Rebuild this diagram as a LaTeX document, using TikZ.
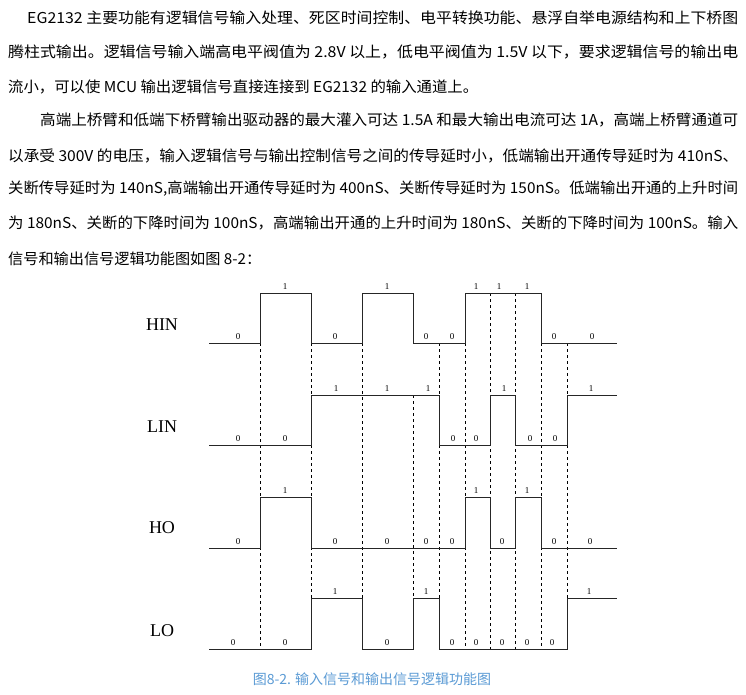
\documentclass[tikz,border=0pt]{standalone}
\usepackage{fontspec}
\usepackage{graphicx}
\setmainfont{Liberation Serif}
\newfontfamily\cjk{Noto Sans CJK SC}
\newcommand{\fullline}[2]{\resizebox{#1}{\height}{#2}}
\begin{document}
\begin{tikzpicture}[x=1pt,y=-1pt,
  sig/.style={line width=0.9pt,black!85},
  dsh/.style={dashed,line width=0.6pt},
  lbl/.style={font=\fontsize{9}{9}\selectfont,inner sep=0pt,anchor=south},
  nm/.style={font=\fontsize{18}{18}\selectfont},
  para/.style={font=\cjk\fontsize{15}{15}\selectfont,anchor=west,inner sep=0pt}]
\useasboundingbox (0,0) rectangle (746,694);
\fill[white] (0,0) rectangle (746,694);
\node[para] (l1) at (27,18) {\fullline{711pt}{EG2132 主要功能有逻辑信号输入处理、死区时间控制、电平转换功能、悬浮自举电源结构和上下桥图}};
\node[para] (l2) at (8,52) {\fullline{730pt}{腾柱式输出。逻辑信号输入端高电平阀值为 2.8V 以上，低电平阀值为 1.5V 以下，要求逻辑信号的输出电}};
\node[para] (l3) at (8,87) {\fullline{470pt}{流小，可以使 MCU 输出逻辑信号直接连接到 EG2132 的输入通道上。}};
\node[para] (l4) at (40,120) {\fullline{698pt}{高端上桥臂和低端下桥臂输出驱动器的最大灌入可达 1.5A 和最大输出电流可达 1A，高端上桥臂通道可}};
\node[para] (l5) at (8,156) {\fullline{730pt}{以承受 300V 的电压，输入逻辑信号与输出控制信号之间的传导延时小，低端输出开通传导延时为 410nS、}};
\node[para] (l6) at (8,189) {\fullline{730pt}{关断传导延时为 140nS,高端输出开通传导延时为 400nS、关断传导延时为 150nS。低端输出开通的上升时间}};
\node[para] (l7) at (8,223) {\fullline{730pt}{为 180nS、关断的下降时间为 100nS，高端输出开通的上升时间为 180nS、关断的下降时间为 100nS。输入}};
\node[para] (l8) at (8,259) {\fullline{253pt}{信号和输出信号逻辑功能图如图 8-2：}};
% dashed
\foreach \x in {260,311,362,439,465,567} \draw[dsh] (\x,343) -- (\x,649);
\draw[dsh] (413,395) -- (413,649);
\foreach \x in {490,515} \draw[dsh] (\x,293) -- (\x,649);
\draw[dsh] (541,343) -- (541,649);
% signals
\draw[sig] (209,343) -- (260,343) -- (260,293) -- (311,293) -- (311,343) -- (362,343) -- (362,293) -- (413,293) -- (413,343) -- (465,343) -- (465,293) -- (541,293) -- (541,343) -- (617,343);
\draw[sig] (209,445) -- (311,445) -- (311,395) -- (439,395) -- (439,445) -- (490,445) -- (490,395) -- (515,395) -- (515,445) -- (567,445) -- (567,395) -- (617,395);
\draw[sig] (209,548) -- (260,548) -- (260,497) -- (311,497) -- (311,548) -- (465,548) -- (465,497) -- (490,497) -- (490,548) -- (515,548) -- (515,497) -- (541,497) -- (541,548) -- (617,548);
\draw[sig] (209,649) -- (311,649) -- (311,598) -- (362,598) -- (362,649) -- (413,649) -- (413,598) -- (439,598) -- (439,649) -- (567,649) -- (567,598) -- (617,598);
% names
\node[nm] (hin) at (162,325) {HIN};
\node[nm] (lin) at (162,427) {LIN};
\node[nm] (ho) at (162,528) {HO};
\node[nm] (lo) at (162,631) {LO};
% labels
\foreach \x/\v/\y in {238/0/340,285/1/290,335/0/340,387/1/290,426/0/340,452/0/340,476/1/290,499/1/290,527/1/290,554/0/340,592/0/340}
  \node[lbl] at (\x,\y) {\v};
\foreach \x/\v/\y in {238/0/442,285/0/442,336/1/392,387/1/392,428/1/392,453/0/442,476/0/442,504/1/392,530/0/442,555/0/442,591/1/392}
  \node[lbl] at (\x,\y) {\v};
\foreach \x/\v/\y in {238/0/545,285/1/494,335/0/545,387/0/545,426/0/545,452/0/545,476/1/494,502/0/545,527/1/494,554/0/545,590/0/545}
  \node[lbl] at (\x,\y) {\v};
\foreach \x/\v/\y in {233/0/646,285/0/646,335/1/595,387/0/646,426/1/595,452/0/646,476/0/646,502/0/646,527/0/646,552/0/646,589/1/595}
  \node[lbl] at (\x,\y) {\v};
\node[font=\cjk\fontsize{14}{14}\selectfont,text={rgb,255:red,91;green,155;blue,213}] (cap) at (372,679) {图8-2. 输入信号和输出信号逻辑功能图};
\end{tikzpicture}
\end{document}
